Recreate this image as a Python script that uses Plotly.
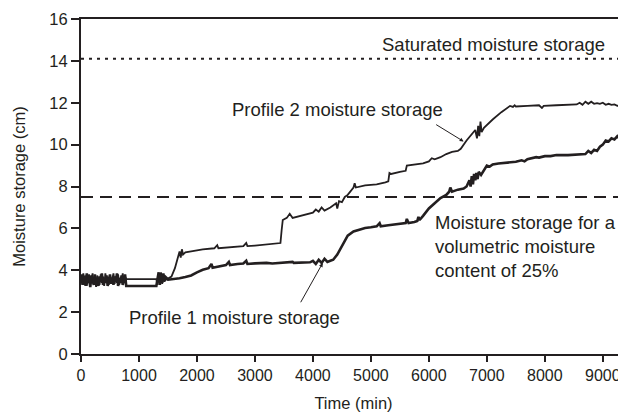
import plotly.graph_objects as go

# time (min) and moisture storage (cm)
p1_time = [0, 20, 40, 60, 80, 100, 120, 140, 160, 180, 200, 220, 240, 260, 280, 300, 320, 340, 360, 380,
           400, 420, 440, 460, 480, 500, 520, 540, 560, 580, 600, 620, 640, 660, 680, 700, 720, 740, 760, 780,
           1300, 1320, 1340, 1360, 1380, 1400, 1420, 1440, 1460, 1500, 1600, 1700, 1800, 1900, 2000, 2100,
           2200, 2250, 2270, 2400, 2500, 2550, 2570, 2700, 2800, 2850, 2870, 3000, 3200, 3300, 3500, 3650,
           3670, 3800, 3950, 4000, 4050, 4100, 4150, 4200, 4250, 4300, 4350, 4420, 4480, 4550, 4600, 4700,
           4800, 4900, 5000, 5100, 5150, 5170, 5300, 5500, 5600, 5620, 5650, 5750, 5800, 5820, 5840, 5900,
           6000, 6100, 6200, 6300, 6350, 6370, 6400, 6500, 6600, 6650, 6700, 6720, 6740, 6760, 6780, 6800,
           6820, 6840, 6860, 6900, 6950, 7000, 7050, 7100, 7200, 7300, 7400, 7500, 7600, 7650, 7700, 7800,
           7850, 7900, 8000, 8100, 8200, 8400, 8600, 8700, 8750, 8800, 8850, 8900, 8950, 9000, 9050, 9100,
           9150, 9200, 9250, 9280, 9300, 9330, 9360, 9400]
p1_storage = [3.45, 3.80, 3.30, 3.70, 3.25, 3.85, 3.40, 3.60, 3.20, 3.75, 3.50, 3.30, 3.80, 3.35, 3.65, 3.25,
              3.70, 3.45, 3.85, 3.30, 3.60, 3.40, 3.75, 3.25, 3.55, 3.80, 3.35, 3.65, 3.30, 3.70, 3.45, 3.85,
              3.25, 3.60, 3.40, 3.75, 3.30, 3.55, 3.80, 3.25,
              3.25, 3.60, 3.90, 3.30, 3.80, 3.40, 3.85, 3.50, 3.60, 3.55, 3.58, 3.62, 3.68, 3.75, 3.90, 4.02,
              4.10, 4.30, 4.12, 4.20, 4.25, 4.40, 4.25, 4.30, 4.32, 4.45, 4.30, 4.33, 4.35, 4.32, 4.36, 4.40,
              4.35, 4.36, 4.38, 4.45, 4.30, 4.50, 4.35, 4.55, 4.40, 4.45, 4.50, 4.75, 5.05, 5.40, 5.65, 5.85,
              5.95, 6.02, 6.05, 6.10, 6.25, 6.10, 6.15, 6.20, 6.25, 6.45, 6.25, 6.30, 6.35, 6.55, 6.40, 6.60,
              6.95, 7.20, 7.45, 7.60, 7.75, 7.95, 7.75, 7.85, 7.90, 8.00, 8.30, 8.00, 8.50, 8.10, 8.60, 8.30,
              8.65, 8.35, 8.70, 8.55, 8.80, 9.00, 8.95, 9.05, 9.10, 9.12, 9.15, 9.18, 9.25, 9.20, 9.30, 9.35,
              9.40, 9.38, 9.45, 9.45, 9.50, 9.50, 9.52, 9.55, 9.70, 9.60, 9.75, 9.70, 9.90, 10.00, 10.20, 10.15,
              10.30, 10.25, 10.40, 10.30, 10.35, 10.20, 10.15, 10.12]

p2_time = [0, 20, 40, 60, 80, 100, 120, 140, 160, 180, 200, 220, 240, 260, 280, 300, 320, 340, 360, 380,
           400, 420, 440, 460, 480, 500, 520, 540, 560, 580, 600, 620, 640, 660, 680, 700, 720, 740, 760, 780,
           1300, 1320, 1340, 1360, 1380, 1400, 1420, 1440, 1460, 1500, 1560, 1620, 1660, 1680, 1700, 1720,
           1740, 1760, 1800, 1900, 2000, 2100, 2300, 2350, 2370, 2600, 2800, 2850, 2870, 3000, 3200, 3400,
           3440, 3460, 3480, 3550, 3600, 3650, 3800, 3900, 4000, 4050, 4100, 4150, 4200, 4300, 4350, 4400,
           4420, 4450, 4500, 4550, 4600, 4650, 4700, 4720, 4740, 4900, 5100, 5250, 5300, 5320, 5350, 5500,
           5600, 5620, 5700, 5900, 6000, 6050, 6100, 6200, 6300, 6400, 6500, 6550, 6650, 6750, 6800, 6830,
           6850, 6870, 6890, 6910, 6950, 7100, 7250, 7400, 7450, 7480, 7500, 7700, 7900, 7950, 7980, 8200,
           8450, 8550, 8600, 8650, 8700, 8750, 8800, 8850, 8900, 8950, 9000, 9050, 9100, 9150, 9200, 9250,
           9300, 9350, 9400]
p2_storage = [3.70, 3.30, 3.85, 3.45, 3.75, 3.25, 3.60, 3.80, 3.35, 3.55, 3.85, 3.40, 3.65, 3.20, 3.75, 3.50,
              3.30, 3.80, 3.40, 3.70, 3.25, 3.85, 3.50, 3.65, 3.30, 3.75, 3.45, 3.60, 3.85, 3.35, 3.70, 3.40,
              3.80, 3.30, 3.65, 3.50, 3.85, 3.40, 3.70, 3.58,
              3.58, 3.30, 3.85, 3.50, 3.90, 3.35, 3.80, 3.45, 3.70, 3.60, 3.70, 4.10, 4.50, 4.70, 4.90, 4.60,
              5.00, 4.75, 4.85, 4.90, 4.95, 5.00, 5.05, 5.20, 5.05, 5.10, 5.15, 5.30, 5.15, 5.18, 5.22, 5.28,
              5.30, 5.90, 6.40, 6.50, 6.70, 6.50, 6.60, 6.65, 6.75, 6.90, 6.80, 7.00, 6.85, 7.00, 7.10, 7.20,
              6.95, 7.30, 7.25, 7.50, 7.60, 7.75, 7.95, 8.15, 7.95, 8.05, 8.10, 8.20, 8.25, 8.65, 8.60, 8.70,
              8.75, 9.00, 9.02, 9.10, 9.20, 9.35, 9.30, 9.40, 9.55, 9.65, 9.70, 9.80, 10.20, 10.50, 10.70, 10.30,
              10.90, 10.40, 11.10, 10.60, 10.80, 11.20, 11.55, 11.85, 11.80, 11.88, 11.82, 11.85, 11.88, 11.75,
              11.85, 11.88, 11.90, 11.92, 12.00, 11.90, 12.05, 11.95, 12.05, 11.95, 11.98, 11.95, 12.00, 11.90,
              11.95, 11.90, 11.92, 11.85, 11.88, 11.80, 11.75]

saturated_storage = 14.1
storage_25pct = 7.5

ink = "#231f20"
font = "Liberation Sans, Arial, sans-serif"

fig = go.Figure()
fig.add_trace(go.Scatter(x=p1_time, y=p1_storage, mode="lines",
                         line=dict(color=ink, width=2.6), showlegend=False))
fig.add_trace(go.Scatter(x=p2_time, y=p2_storage, mode="lines",
                         line=dict(color=ink, width=1.8), showlegend=False))

fig.add_hline(y=saturated_storage, line=dict(color=ink, width=2, dash="3px,5px"))
fig.add_hline(y=storage_25pct, line=dict(color=ink, width=2, dash="12px,7px"))

fig.add_annotation(x=9070, y=14.8, text="Saturated moisture storage", showarrow=False,
                   xanchor="right", font=dict(size=18.5, color=ink))
fig.add_annotation(x=6600, y=10.15, ax=6100, ay=11.0, axref="x", ayref="y",
                   text="", showarrow=True, arrowhead=2, arrowsize=0.8,
                   arrowwidth=1, arrowcolor=ink)
fig.add_annotation(x=6276, y=11.7, text="Profile 2 moisture storage", showarrow=False,
                   xanchor="right", font=dict(size=18.5, color=ink))
fig.add_annotation(x=4170, y=4.35, ax=3775, ay=2.4, axref="x", ayref="y",
                   text="", showarrow=True, arrowhead=2, arrowsize=0.8,
                   arrowwidth=1, arrowcolor=ink)
fig.add_annotation(x=2640, y=1.72, text="Profile 1 moisture storage", showarrow=False,
                   font=dict(size=18.5, color=ink))
fig.add_annotation(x=6070, y=5.13, align="left", xanchor="left", showarrow=False,
                   text="Moisture storage for a<br>volumetric moisture<br>content of 25%",
                   font=dict(size=18.5, color=ink))

fig.update_xaxes(range=[0, 9400], tickvals=list(range(0, 9001, 1000)),
                 showgrid=False, zeroline=False, showline=True, linewidth=2, linecolor=ink,
                 mirror=True, ticks="outside", ticklen=6, tickwidth=1.5, tickcolor=ink,
                 title=dict(text="Time (min)", font=dict(size=16.5, color=ink), standoff=14),
                 tickfont=dict(size=16, color=ink))
fig.update_yaxes(range=[0, 16], dtick=2, showgrid=False, zeroline=False,
                 showline=True, linewidth=2, linecolor=ink,
                 ticks="outside", ticklen=8, tickwidth=1.5, tickcolor=ink,
                 title=dict(text="Moisture storage (cm)", font=dict(size=16.5, color=ink), standoff=20),
                 tickfont=dict(size=16.5, color=ink))

# page body adds an 8px margin, so the figure is sized to end at the window edge
fig.update_layout(width=618, height=404, plot_bgcolor="white", paper_bgcolor="white",
                  font=dict(family=font, color=ink),
                  margin=dict(l=73, r=0, t=11, b=58, autoexpand=False))

fig.write_html("out.html")
